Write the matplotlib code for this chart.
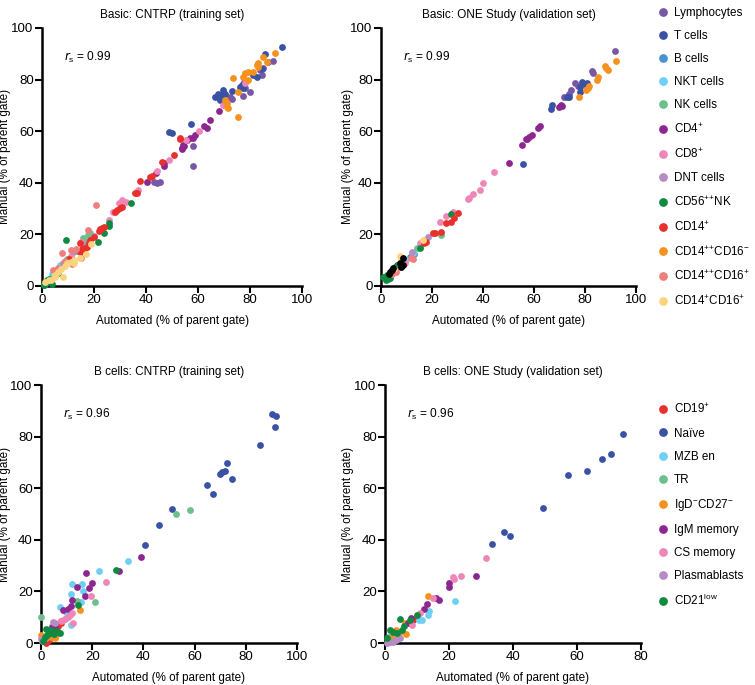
import matplotlib
matplotlib.use("Agg")
import matplotlib.pyplot as plt
from matplotlib.lines import Line2D

plt.rcParams['font.family'] = ['Liberation Sans', 'DejaVu Sans']
plt.rcParams['mathtext.default'] = 'regular'

# ---- basic panel, CNTRP (training set) ----
cntrp_lymphocytes = [(89, 87.3), (87, 86.9), (85.1, 84.4), (83.8, 83.7), (84.5, 81.8), (77.7, 79.2), (80, 75.3),
                     (78.1, 76.6), (77.2, 73.6), (72.3, 73.4), (73, 72.4), (58, 54.3), (58.2, 46.5), (42.9, 40.5),
                     (44.2, 40.1), (45.5, 40.5)]
cntrp_tcells = [(92.2, 92.8), (85.8, 89.9), (84.5, 84), (81.3, 81.8), (82.6, 81.1), (76.8, 77.9), (76.2, 77.3),
                (77.4, 76.6), (73, 75.7), (69.7, 76), (66.5, 73.4), (67.8, 74.4), (69.1, 74), (68.5, 72.1),
                (57.2, 62.8), (48.7, 59.5), (50, 59.2), (70.5, 74.5), (68, 73)]
cntrp_bcells = [(0.6, 0.3), (1, 0.8)]
cntrp_nkt = [(7, 8.2), (4, 4.5), (10, 9.5)]
cntrp_nk = [(18.6, 20.4), (15.8, 18.5), (17, 17.2), (17.7, 19.8), (13.2, 13.6), (12, 13), (9.5, 10.5), (6, 6.5)]
cntrp_cd4 = [(68.2, 67.9), (64.6, 64.3), (62.3, 62), (63.6, 61.1), (58.8, 58.5), (58.2, 57.2), (56.9, 57.2),
             (55.6, 56.6), (54.3, 54.7), (53.7, 53.4), (53.8, 53), (54.5, 54.1), (46.8, 46.6), (46.8, 47.6),
             (44, 43.7), (40.4, 40.5)]
cntrp_cd8 = [(69.7, 70.2), (78.1, 78.6), (60.5, 60.1), (55.4, 56.6), (49, 48.9), (44.2, 44.4), (36.8, 37.3),
             (32.4, 32.7), (30.8, 33.4), (29.5, 32.1), (27.3, 28.5), (25.6, 25.6), (15, 17), (11, 11.5)]
cntrp_dnt = [(12, 13.5), (8, 9), (5, 5.5), (20, 19.5), (16, 16)]
cntrp_cd56 = [(34.3, 32), (25.6, 24.3), (25.6, 23.3), (24, 20.4), (21.5, 17.2), (9.3, 17.8), (3.2, 1.7),
              (1.9, 2.3), (3.8, 0.8), (0.6, 0.4), (6, 5), (2.5, 2.8)]
cntrp_cd14 = [(53, 57.3), (46.2, 48), (50.6, 50.8), (53.2, 56.9), (41.4, 42.4), (42.3, 42.7), (37.8, 40.8),
              (35.9, 36.2), (36.5, 36), (30.8, 30.8), (30.1, 30.1), (28.8, 29.5), (28.2, 28.8), (22.4, 22),
              (21.8, 21.5), (23.1, 22.4), (23.7, 22.8), (19.9, 19.1), (18.6, 17.9), (17.9, 16.6), (17.3, 15.3),
              (16.7, 14.6), (15.4, 14.2), (14.7, 13.3), (10.3, 10.3), (14.7, 16.6), (10, 9.5)]
cntrp_cd14_16neg = [(89.6, 90.4), (85.1, 88.6), (86.7, 86.7), (83.2, 86.6), (82.6, 85.7), (83, 85), (81.3, 83.1),
                    (79.3, 83.1), (78.1, 82.4), (77.4, 81.1), (79.3, 79.8), (73.6, 80.5), (75.5, 75.3),
                    (70.4, 72.1), (71, 70.8), (71, 69.3), (71.7, 68.9), (75.5, 65.6)]
cntrp_cd14_16pos = [(20.9, 31.4), (17.7, 21.7), (11.3, 14), (15.1, 10.7), (11.7, 8.4), (7.7, 12.7), (4.2, 6.2),
                    (6, 7), (9, 9.5), (13, 14.5)]
cntrp_cd14dim_16pos = [(19, 16.3), (16.8, 12.3), (12.3, 10.1), (11.3, 9.4), (9, 7.8), (7.4, 6.5), (6.2, 5.5),
                       (8.1, 3.6), (4.9, 3.6), (3.6, 2.3), (14.7, 10.7), (9.6, 8.8), (12.2, 8.8), (5.1, 4.3),
                       (2.6, 2.3), (1.3, 1.7)]

# ---- basic panel, ONE Study (validation set) ----
one_lymphocytes = [(91.8, 91.2), (82.7, 83.2), (83, 82.6), (76.2, 78.6), (77.3, 77.7), (74.7, 75.8),
                   (73.9, 74.5), (71.7, 73.4)]
one_tcells = [(78.8, 79), (79.9, 78.3), (80.8, 78.6), (78.2, 77), (77.9, 75.1), (73.6, 73.4), (73, 73.2),
              (67.1, 70), (66.5, 68.7), (55.7, 47.2)]
one_bcells = [(11.3, 11.3), (13, 12.5)]
one_nkt = [(15.2, 15.2), (12.6, 12.6), (10, 10), (8, 8.5)]
one_nk = [(23.6, 19.7), (14, 14.8), (6, 7)]
one_cd4 = [(70.4, 70), (70, 69.3), (71, 69.6), (62.2, 62.2), (61.7, 61.3), (59.1, 58.6), (58, 57.7),
           (57.4, 57.1), (56.8, 57.1), (55.2, 54.5), (50.3, 47.7)]
one_cd8 = [(44.2, 44.2), (40.1, 39.9), (39, 37.4), (36, 35.8), (34.7, 34.3), (34, 33.9), (28.2, 28.7),
           (25.6, 27.1), (23, 24.9), (15.2, 16.8), (9.4, 8.8)]
one_dnt = [(18.4, 18.8), (17.1, 17.8), (12, 13)]
one_cd56 = [(27.3, 28.1), (15.2, 14.6), (5.5, 7.5), (6.1, 8.1), (4.2, 6.2), (2.2, 4.3), (1.6, 3.4), (0.9, 3.4),
            (2.9, 2.6), (3.5, 3), (1.8, 2.5)]
one_cd14 = [(30.1, 28.4), (28.6, 26.5), (27.5, 24.9), (25.6, 24.5), (23.6, 21), (21, 20.7), (20.4, 20.4),
            (17.5, 17.1), (16.8, 16.8)]
one_cd14_16neg = [(92.2, 87.1), (87.7, 85.2), (88.2, 84.5), (88.9, 83.8), (85, 80.9), (84.7, 80), (81.4, 77.7),
                  (81.1, 76.8), (80.4, 75.8), (77.5, 73.4)]
one_cd14_16pos = [(11.9, 11), (12.6, 10.3), (8, 7.5), (8.7, 8.8), (4.5, 4.8), (6, 5.5)]
one_cd14dim_16pos = [(16.5, 18), (8, 11), (7.4, 11.6), (5, 6.5)]
one_other = [(8.7, 11), (8.7, 8.1), (7.4, 8.8), (4.8, 6.8), (4.2, 6.2), (3.5, 5.5), (8, 7.3), (3, 4.5)]

# ---- B cell panel, CNTRP ----
cntrp_cd19 = [(6.6, 6.6), (7.7, 7.6), (2.1, 0), (3, 1), (8, 8.5)]
cntrp_naive = [(90.3, 88.8), (91.9, 88), (91.6, 83.6), (85.5, 76.9), (72.5, 69.8), (71.7, 66.6), (70.8, 66.2),
               (70.1, 65.5), (74.7, 63.5), (64.9, 61.2), (67.1, 57.8), (51.3, 52.1), (46.1, 45.9), (40.5, 37.8)]
cntrp_mzb = [(34, 31.9), (22.5, 28), (12.1, 22.8), (16.1, 22.8), (16.5, 20.3), (11.8, 18.9), (7.3, 13.8),
             (9.7, 12), (15.6, 15.9), (11.6, 7), (4.4, 6.6), (3, 5)]
cntrp_tr = [(52.9, 49.9), (58.2, 51.6), (21.2, 16), (14.2, 16.3), (0.1, 10.2), (1, 2.4)]
cntrp_igd = [(15.1, 12.8), (0.1, 3.1), (0.4, 1.2), (2.1, 1.8), (4, 2.4), (5.3, 1.8), (6, 3)]
cntrp_igm = [(30.5, 28.1), (39.2, 33.3), (17.7, 27), (14.1, 21.8), (19.9, 23.1), (18.6, 21.4), (17.3, 18.1),
             (12.2, 16.7), (11.8, 14.3), (10.5, 13.1), (8.6, 12.8), (4.4, 6.3), (5.3, 5.7), (4.7, 5), (4, 4.4)]
cntrp_cs = [(25.4, 23.5), (19.7, 18.2), (12.5, 7.6), (11.2, 10.9), (10.5, 10.2), (9.9, 9.6), (9.3, 9.2),
            (8.6, 8.9), (7.9, 8.5), (12, 11.5)]
cntrp_plasma = [(5.3, 7.6), (4.7, 8.3), (0, 1.5), (0.5, 0.8), (1.5, 2)]
cntrp_cd21 = [(29.4, 28.3), (14.5, 14.7), (2.1, 5.3), (3.4, 3.8), (2.5, 3.1), (7.3, 4), (6.4, 4.7), (0.8, 0.9),
              (1.4, 2.4), (3.9, 5.2), (5, 3.5)]

# ---- B cell panel, ONE Study ----
one_cd19 = [(8.9, 8.9), (10, 9.5)]
one_naive = [(74.3, 81), (70.6, 73.3), (67.7, 71.3), (63.2, 66.7), (57.1, 65.2), (49.3, 52.2), (37.2, 43.1),
             (39.1, 41.6), (33.5, 38.3)]
one_mzb = [(22, 16.4), (13.9, 12.5), (13.5, 10.9), (10.7, 8.9), (11.5, 8.9)]
one_tr = [(1, 2.4), (2.1, 2.7), (3, 2), (1.5, 1.5)]
one_igd = [(13.5, 18.3), (6.6, 3.4), (3.4, 5), (4.7, 4.1), (2.6, 3.1), (6.3, 7.6)]
one_igm = [(28.3, 26.1), (20.1, 23.1), (20, 21.8), (15.8, 17.3), (17, 16.7), (13, 15), (12.3, 13.1), (8, 9.6),
           (7.2, 7.8)]
one_cs = [(31.6, 33.1), (23.8, 26.1), (21.2, 25.5), (21.6, 24.7), (14.9, 17.6), (10.9, 11.7), (8.5, 7)]
one_plasma = [(4.7, 1.8), (1.6, 0.5), (0.5, 0.1), (1, 0.8), (2.5, 0.5), (3.5, 1)]
one_cd21 = [(9.9, 10.7), (7.8, 8.9), (4.7, 9.3), (1.6, 5), (2.6, 4.1), (3.6, 3.8), (5.9, 6.7), (5.2, 5),
            (0.5, 1.8)]

basic_labels = ['Lymphocytes', 'T cells', 'B cells', 'NKT cells', 'NK cells', 'CD4$^{+}$', 'CD8$^{+}$',
                'DNT cells', 'CD56$^{{+}{+}}$NK', 'CD14$^{+}$', 'CD14$^{{+}{+}}$CD16$^{-}$',
                'CD14$^{{+}{+}}$CD16$^{+}$', 'CD14$^{+}$CD16$^{+}$']
basic_colors = ['#7857A7', '#3A52A3', '#4B92CF', '#6FCFF5', '#6DC08D', '#8C278F', '#EE87B7', '#B78CC2',
                '#0F8A40', '#E8302C', '#F5921F', '#EF7F7C', '#FDD47E']
bcell_labels = ['CD19$^{+}$', 'Naïve', 'MZB en', 'TR', 'IgD$^{-}$CD27$^{-}$', 'IgM memory', 'CS memory',
                'Plasmablasts', 'CD21$^{low}$']
bcell_colors = ['#E8302C', '#3A52A3', '#6FCFF5', '#6DC08D', '#F5921F', '#8C278F', '#EE87B7', '#B78CC2',
                '#0F8A40']

cntrp_basic = [cntrp_lymphocytes, cntrp_tcells, cntrp_bcells, cntrp_nkt, cntrp_nk, cntrp_cd4, cntrp_cd8,
               cntrp_dnt, cntrp_cd56, cntrp_cd14, cntrp_cd14_16neg, cntrp_cd14_16pos, cntrp_cd14dim_16pos]
one_basic = [one_lymphocytes, one_tcells, one_bcells, one_nkt, one_nk, one_cd4, one_cd8, one_dnt, one_cd56,
             one_cd14, one_cd14_16neg, one_cd14_16pos, one_cd14dim_16pos]
cntrp_b = [cntrp_cd19, cntrp_naive, cntrp_mzb, cntrp_tr, cntrp_igd, cntrp_igm, cntrp_cs, cntrp_plasma, cntrp_cd21]
one_b = [one_cd19, one_naive, one_mzb, one_tr, one_igd, one_igm, one_cs, one_plasma, one_cd21]

W, H = 755, 685
fig = plt.figure(figsize=(W / 100, H / 100), dpi=100)


def px_axes(x0, y0, x1, y1):
    # pixel box (left, top, right, bottom) -> figure fraction axes
    return fig.add_axes([x0 / W, 1 - y1 / H, (x1 - x0) / W, (y1 - y0) / H])


def panel(ax, groups, colors, title, rs, xmax, ylab_x):
    for pts, c in zip(groups, colors):
        ax.scatter([p[0] for p in pts], [p[1] for p in pts], s=24, color=c, linewidths=0,
                   clip_on=False, zorder=3)
    ax.set_xlim(0, xmax)
    ax.set_ylim(0, 100)
    ax.set_xticks(range(0, xmax + 1, 20))
    ax.set_yticks(range(0, 101, 20))
    for s in ['top', 'right']:
        ax.spines[s].set_visible(False)
    for s in ['left', 'bottom']:
        ax.spines[s].set_linewidth(1.8)
    ax.tick_params(width=1.5, length=5, labelsize=9.5, pad=1)
    ax.set_title(title, fontsize=8.5, pad=7)
    ax.set_xlabel('Automated (% of parent gate)', fontsize=8.4, labelpad=6)
    ax.set_ylabel('Manual (% of parent gate)', fontsize=8.4)
    ax.yaxis.set_label_coords(ylab_x, 0.5)
    ax.text(0.085, 0.885, '$\\mathit{r}_{s}$ = ' + rs, transform=ax.transAxes, fontsize=8.6, va='center')


ax1 = px_axes(42, 28, 302, 286)
panel(ax1, cntrp_basic, basic_colors, 'Basic: CNTRP (training set)', '0.99', 100, -0.119)

ax2 = px_axes(381, 28, 636, 286)
panel(ax2, one_basic + [one_other], basic_colors + ['black'], 'Basic: ONE Study (validation set)', '0.99',
      100, -0.106)

ax3 = px_axes(41, 385, 297, 643)
panel(ax3, cntrp_b, bcell_colors, 'B cells: CNTRP (training set)', '0.96', 100, -0.117)

ax4 = px_axes(385, 385, 641, 643)
panel(ax4, one_b, bcell_colors, 'B cells: ONE Study (validation set)', '0.96', 80, -0.121)

basic_handles = [Line2D([], [], ls='', marker='o', ms=6.3, mew=0, color=c) for c in basic_colors]
fig.legend(basic_handles, basic_labels, loc='upper left', bbox_to_anchor=(650 / W, 1 - 2 / H),
           frameon=False, fontsize=8.4, handletextpad=0.15, labelspacing=0.95, borderaxespad=0,
           handlelength=1.5)

bcell_handles = [Line2D([], [], ls='', marker='o', ms=6.3, mew=0, color=c) for c in bcell_colors]
fig.legend(bcell_handles, bcell_labels, loc='upper left', bbox_to_anchor=(650 / W, 1 - 398 / H),
           frameon=False, fontsize=8.4, handletextpad=0.15, labelspacing=0.95, borderaxespad=0,
           handlelength=1.5)

fig.savefig('out.png', dpi=100)
